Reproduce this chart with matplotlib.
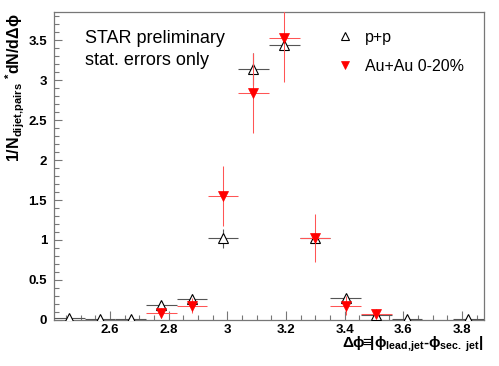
import matplotlib
matplotlib.use("Agg")
import matplotlib.pyplot as plt
from matplotlib.lines import Line2D
from matplotlib.ticker import MultipleLocator, FuncFormatter

# ---- data ----
pp_x = [2.461, 2.566, 2.670, 2.775, 2.880, 2.985, 3.089, 3.194, 3.299, 3.403, 3.508, 3.613, 3.822]
pp_y = [0.02, 0.01, 0.01, 0.19, 0.26, 1.02, 3.14, 3.44, 1.03, 0.28, 0.06, 0.01, 0.01]
pp_err = [0.01, 0.01, 0.01, 0.04, 0.06, 0.12, 0.20, 0.08, 0.06, 0.05, 0.03, 0.01, 0.01]

au_x = [2.775, 2.880, 2.985, 3.089, 3.194, 3.299, 3.403, 3.508]
au_y = [0.09, 0.18, 1.55, 2.84, 3.53, 1.03, 0.18, 0.08]
au_err = [0.06, 0.09, 0.37, 0.50, 0.56, 0.30, 0.12, 0.06]

bin_half = 0.052
xlim = (2.409, 3.875)
ylim = (0.0, 3.85)

legend_labels = ["p+p", "Au+Au 0-20%"]
text_lines = ["STAR preliminary", "stat. errors only"]

plt.rcParams['mathtext.fontset'] = 'custom'
plt.rcParams['mathtext.rm'] = 'Liberation Sans'
plt.rcParams['mathtext.bf'] = 'Liberation Sans:bold'
plt.rcParams['mathtext.it'] = 'Liberation Sans:italic'
plt.rcParams['font.family'] = ['Liberation Sans', 'DejaVu Sans']

W, H = 499, 366
fig = plt.figure(figsize=(W / 100, H / 100), dpi=100)
ax = fig.add_axes([54 / W, 1 - 320 / H, (484 - 54) / W, (320 - 12) / H])

frame_col = '#777777'
for s in ax.spines.values():
    s.set_color(frame_col)
    s.set_linewidth(0.9)

ax.errorbar(pp_x, pp_y, yerr=pp_err, xerr=bin_half, fmt='^', ms=6.5,
            mfc='white', mec='black', mew=0.8, ecolor='#555555', elinewidth=0.8,
            capsize=0, zorder=3)
ax.errorbar(au_x, au_y, yerr=au_err, xerr=bin_half, fmt='v', ms=6.5,
            mfc='red', mec='red', mew=0.5, ecolor='#ff5555', elinewidth=0.75,
            capsize=0, zorder=4)

ax.set_xlim(*xlim)
ax.set_ylim(*ylim)
ax.xaxis.set_major_locator(MultipleLocator(0.2))
ax.xaxis.set_minor_locator(MultipleLocator(0.05))
ax.yaxis.set_major_locator(MultipleLocator(0.5))
ax.yaxis.set_minor_locator(MultipleLocator(0.1))
fmt = FuncFormatter(lambda v, p: ('%g' % round(v, 3)))
ax.xaxis.set_major_formatter(fmt)
ax.yaxis.set_major_formatter(fmt)
ax.tick_params(which='both', direction='in', colors=frame_col, top=False, right=False)
ax.tick_params(axis='x', which='major', length=6.5, width=0.8, pad=3.0, labelsize=9.5, labelcolor='black')
ax.tick_params(axis='x', which='minor', length=3.6, width=0.8)
ax.tick_params(axis='y', which='major', length=6, width=0.8, pad=5, labelsize=9.5, labelcolor='black')
ax.tick_params(axis='y', which='minor', length=3.6, width=0.8)
for lab in ax.get_xticklabels() + ax.get_yticklabels():
    lab.set_fontweight('bold')

# text block
ax.text(85 / W, 1 - 43 / H, text_lines[0], transform=fig.transFigure, fontsize=13,
        ha='left', va='baseline')
ax.text(85 / W, 1 - 65 / H, text_lines[1], transform=fig.transFigure, fontsize=13,
        ha='left', va='baseline')

# legend
handles = [Line2D([], [], ls='none', marker='^', ms=6, mfc='white', mec='black', mew=0.8),
           Line2D([], [], ls='none', marker='v', ms=6, mfc='red', mec='red', mew=0.5)]
ax.legend(handles, legend_labels, loc='upper left', bbox_to_anchor=(337 / W, 1 - 30 / H),
          bbox_transform=fig.transFigure, frameon=False, fontsize=11.5,
          handlelength=1.0, handletextpad=0.75, labelspacing=0.85, borderpad=0, borderaxespad=0)

# axis titles
fig.text(15.5 / W, 1 - 13 / H, r'$\mathbf{1/N_{dijet,\!pairs}\ {}^{*}dN/d\Delta\phi}$',
         rotation=90, ha='center', va='top', fontsize=11.5)
fig.text(483 / W, 1 - 348 / H,
         '$\\mathbf{\\Delta\\phi\\!\\!\\equiv\\!\\!|\\phi_{lead,\\!jet}\u2010\\phi_{sec.\\ jet}|}$',
         ha='right', va='baseline', fontsize=11)

fig.savefig('out.png', dpi=100)
